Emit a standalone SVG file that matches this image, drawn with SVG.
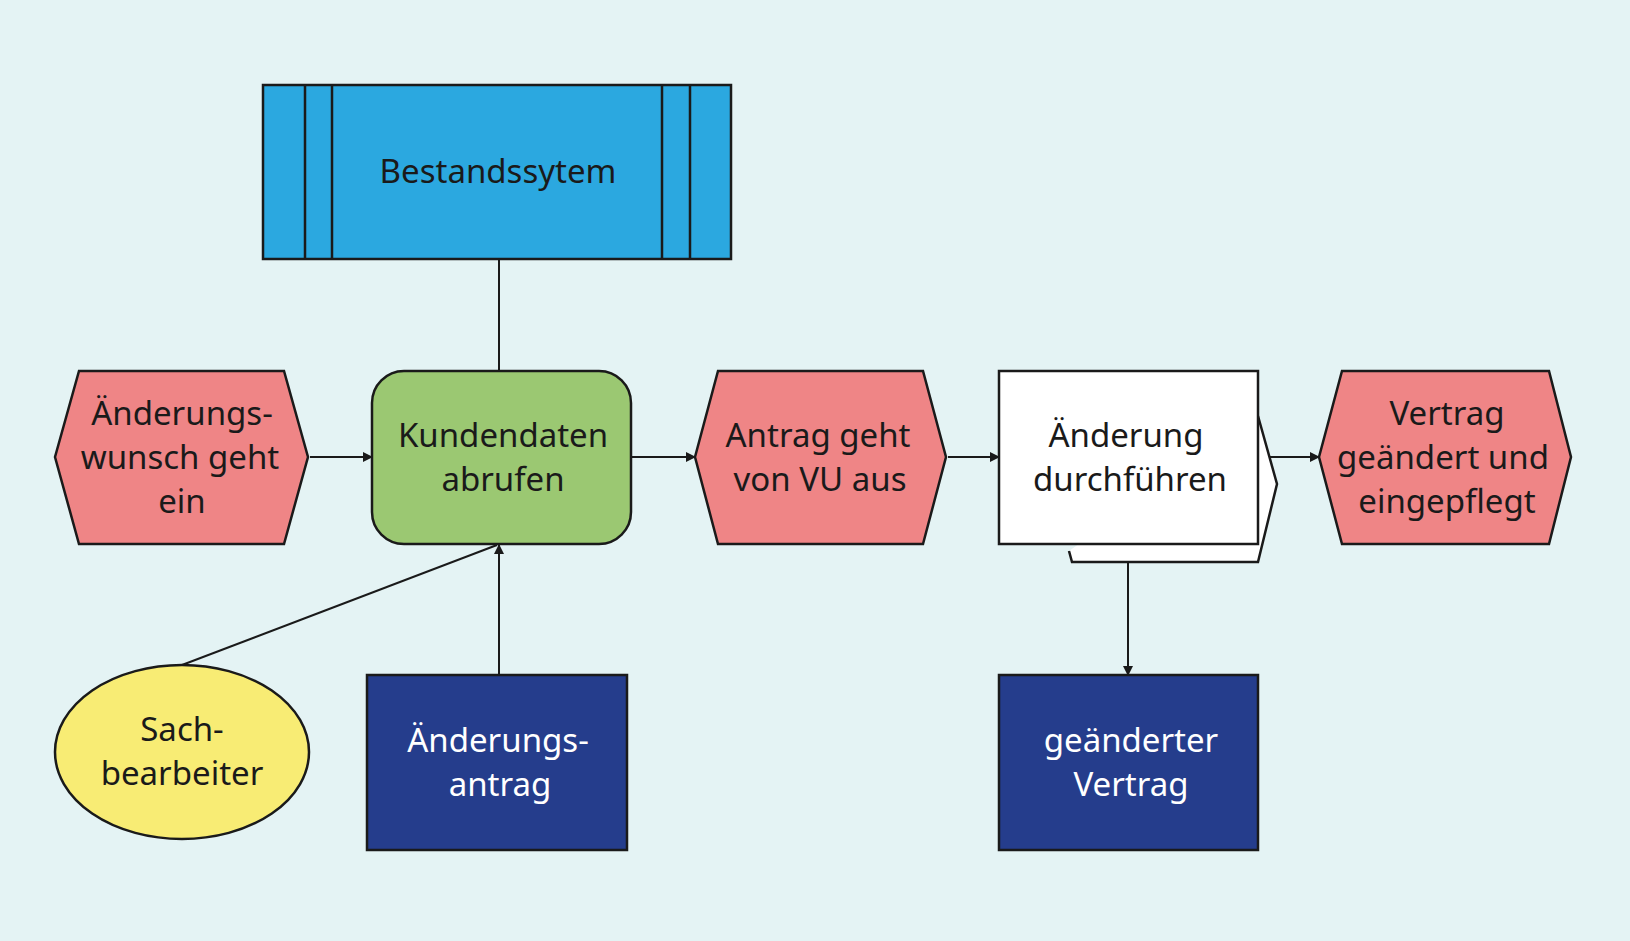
<svg xmlns="http://www.w3.org/2000/svg" width="1630" height="941" viewBox="0 0 1630 941">
<defs>
<marker id="a" markerWidth="10" markerHeight="10" refX="9" refY="5" orient="auto" markerUnits="userSpaceOnUse" viewBox="0 0 10 10"><path d="M0,0 L10,5 L0,10 z" fill="#1a1a1a"/></marker>
</defs>
<style>
.s{stroke:#1a1a1a;stroke-width:2.5}
.t{font-family:"Noto Sans","Open Sans",sans-serif;font-size:33px;text-anchor:middle;fill:#1a1a1a}
.w{fill:#fff}
.c{stroke:#1a1a1a;stroke-width:2;fill:none}
</style>
<rect width="1630" height="941" fill="#e4f3f4"/>
<g id="connectors">
<line class="c" x1="499" y1="259" x2="499" y2="371"/>
<line class="c" x1="310" y1="457" x2="372" y2="457" marker-end="url(#a)"/>
<line class="c" x1="631" y1="457" x2="695" y2="457" marker-end="url(#a)"/>
<line class="c" x1="948" y1="457" x2="999" y2="457" marker-end="url(#a)"/>
<line class="c" x1="1268" y1="457" x2="1319" y2="457" marker-end="url(#a)"/>
<line class="c" x1="499" y1="675" x2="499" y2="545" marker-end="url(#a)"/>
<line class="c" x1="182" y1="665" x2="497" y2="545"/>
<line class="c" x1="1128" y1="553" x2="1128" y2="675" marker-end="url(#a)"/>
</g>
<g id="bestand">
<rect class="s" x="263" y="85" width="468" height="174" fill="#2ba8e0"/>
<path class="s" d="M305,85V259M332,85V259M662,85V259M690,85V259"/>
<text class="t" x="498" y="183">Bestandssytem</text>
</g>
<g id="e1">
<polygon class="s" points="55,457 79,371 284,371 308,457 284,544 79,544" fill="#ef8586"/>
<text class="t" x="182" y="425">Änderungs-</text><text class="t" x="180" y="469">wunsch geht</text><text class="t" x="182" y="513">ein</text>
</g>
<g id="f1">
<rect class="s" x="372" y="371" width="259" height="173" rx="32" fill="#9bc872"/>
<text class="t" x="503" y="447">Kundendaten</text><text class="t" x="503" y="491">abrufen</text>
</g>
<g id="e2">
<polygon class="s" points="695,457 718,371 923,371 946,457 923,544 718,544" fill="#ef8586"/>
<text class="t" x="818" y="447">Antrag geht</text><text class="t" x="820" y="491">von  VU aus</text>
</g>
<g id="f2">
<path class="s w" d="M1258,416 L1277,484 L1258,562 L1072,562 L1069,551"/>
<rect class="s w" x="999" y="371" width="259" height="173"/>
<text class="t" x="1126" y="447">Änderung</text><text class="t" x="1130" y="491">durchführen</text>
</g>
<g id="e3">
<polygon class="s" points="1319,457 1342,371 1549,371 1571,457 1549,544 1342,544" fill="#ef8586"/>
<text class="t" x="1447" y="425">Vertrag</text><text class="t" x="1443" y="469">geändert und</text><text class="t" x="1447" y="513">eingepflegt</text>
</g>
<g id="sach">
<ellipse class="s" cx="182" cy="752" rx="127" ry="87" fill="#f8ec74"/>
<text class="t" x="182" y="741">Sach-</text><text class="t" x="182" y="785">bearbeiter</text>
</g>
<g id="antrag">
<rect class="s" x="367" y="675" width="260" height="175" fill="#253d8c"/>
<text class="t w" x="498" y="752">Änderungs-</text><text class="t w" x="500" y="796">antrag</text>
</g>
<g id="vertrag">
<rect class="s" x="999" y="675" width="259" height="175" fill="#253d8c"/>
<text class="t w" x="1131" y="752">geänderter</text><text class="t w" x="1131" y="796">Vertrag</text>
</g>
</svg>
